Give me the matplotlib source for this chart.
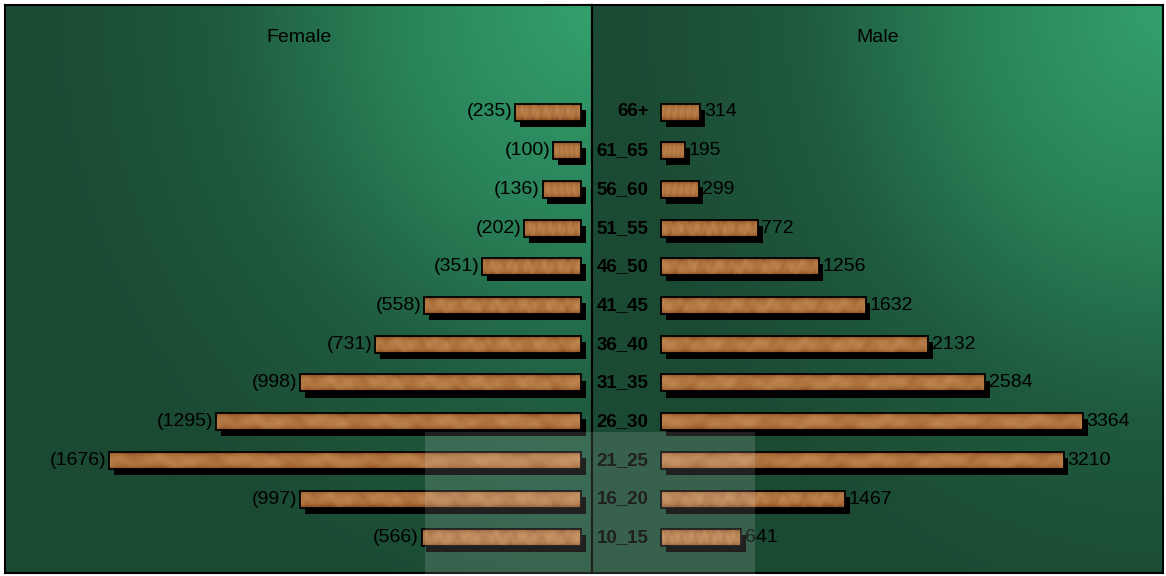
import numpy as np
import matplotlib
matplotlib.use("Agg")
import matplotlib.pyplot as plt
import matplotlib.patheffects as pe
from matplotlib.colors import LinearSegmentedColormap
from matplotlib.patches import Rectangle

plt.rcParams["font.family"] = ["Liberation Sans Narrow", "Liberation Sans", "DejaVu Sans"]

age_groups = ["66+", "61_65", "56_60", "51_55", "46_50", "41_45",
              "36_40", "31_35", "26_30", "21_25", "16_20", "10_15"]
female = [235, 100, 136, 202, 351, 558, 731, 998, 1295, 1676, 997, 566]
male = [314, 195, 299, 772, 1256, 1632, 2132, 2584, 3364, 3210, 1467, 641]

W, H = 1166, 576
fig = plt.figure(figsize=(W / 100, H / 100), dpi=100)
fig.patch.set_facecolor("white")

green = LinearSegmentedColormap.from_list("g", ["#1b4a33", "#1f5a3e", "#2a8459", "#34a06e"])
woodmap = LinearSegmentedColormap.from_list("w", ["#7a4220", "#9c5e2e", "#b47a45", "#c8935d"])


def px_axes(x0, x1, y0, y1):
    return fig.add_axes([x0 / W, 1 - y1 / H, (x1 - x0) / W, (y1 - y0) / H])


def background(ax):
    u = np.linspace(0, 1, 200)
    v = np.linspace(0, 1, 120)
    U, V = np.meshgrid(u, v)
    t = np.clip(1 - np.sqrt(((1 - U) / 0.95) ** 2 + (V / 1.1) ** 2), 0, 1)
    # row 0 = top of the panel
    ax.imshow(t, cmap=green, vmin=0, vmax=1, extent=(0, 1, 0, 1), origin="upper",
              transform=ax.transAxes, aspect="auto", zorder=0, interpolation="bilinear")


def grain(n=300, m=10):
    # fixed mottled wood fill, darker at top and bottom edges
    X, Y = np.meshgrid(np.linspace(0, 1, n), np.linspace(0, 1, m))
    g = (0.68
         + 0.07 * np.sin(X * 37 + Y * 2.0)
         + 0.06 * np.sin(X * 113 + Y * 5.0) * np.cos(X * 29)
         + 0.05 * np.cos(X * 71 - Y * 4.0)
         - 0.45 * np.abs(2 * Y - 1) ** 3)
    return np.clip(g, 0, 1)


GRAIN = grain()


def wood_bars(ax, values, ys, height):
    bars = ax.barh(ys, values, height=height, color="#a86c3a", edgecolor="none",
                   path_effects=shadow, zorder=2)
    for b in bars:
        x0, y0 = b.get_x(), b.get_y()
        im = ax.imshow(GRAIN, cmap=woodmap, vmin=0, vmax=1, aspect="auto",
                       extent=(x0, x0 + b.get_width(), y0 + height, y0), origin="upper",
                       zorder=2.5, interpolation="bilinear")
        im.set_clip_path(b)
    ax.barh(ys, values, height=height, fill=False, edgecolor="black", linewidth=1.3, zorder=3)


# row spacing in pixels: 66+ at y=112, 10_15 at y=538
row_top, row_step = 112, 38.7
ylim = ((573 - row_top) / row_step, (5 - row_top) / row_step)
bar_h = 17 / row_step
shadow = [pe.SimplePatchShadow(offset=(3.4, -4.4), shadow_rgbFace="black", alpha=1.0), pe.Normal()]
y = np.arange(len(age_groups))

# female panel: 0 at x=581, 1676 at x=109
f_scale = (581 - 109) / 1676
ax_f = px_axes(5, 592, 5, 573)
background(ax_f)
ax_f.set_xlim((581 - 5) / f_scale, (581 - 592) / f_scale)
ax_f.set_ylim(*ylim)
wood_bars(ax_f, female, y, bar_h)
for yi, v in zip(y, female):
    ax_f.annotate(f"({v})", (v, yi), xytext=(-2, 0), textcoords="offset points",
                  ha="right", va="center", fontsize=14, zorder=4)
ax_f.text(0.5, 0.942, "Female", transform=ax_f.transAxes, ha="center", va="center", fontsize=14)

# male panel: 0 at x=661, 3364 at x=1083
m_scale = (1083 - 661) / 3364
ax_m = px_axes(592, 1163, 5, 573)
background(ax_m)
ax_m.set_xlim(-(661 - 592) / m_scale, (1163 - 661) / m_scale)
ax_m.set_ylim(*ylim)
wood_bars(ax_m, male, y, bar_h)
for yi, v in zip(y, male):
    ax_m.annotate(str(v), (v, yi), xytext=(2.5, 0), textcoords="offset points",
                  ha="left", va="center", fontsize=14, zorder=4)
for yi, lab in zip(y, age_groups):
    ax_m.annotate(lab, (0, yi), xytext=(-9, 0), textcoords="offset points",
                  ha="right", va="center", fontsize=13.5, fontweight="bold", zorder=4)
ax_m.text(0.5, 0.942, "Male", transform=ax_m.transAxes, ha="center", va="center", fontsize=14)

for ax in (ax_f, ax_m):
    ax.set_xticks([])
    ax.set_yticks([])
    for s in ax.spines.values():
        s.set_color("black")
        s.set_linewidth(1.5)

# faint watermark block at the bottom centre
fig.patches.append(Rectangle((425 / W, 0), (755 - 425) / W, (576 - 432) / H,
                             transform=fig.transFigure, facecolor="white", alpha=0.13,
                             edgecolor="none", zorder=10))

fig.savefig("out.png", dpi=100)
